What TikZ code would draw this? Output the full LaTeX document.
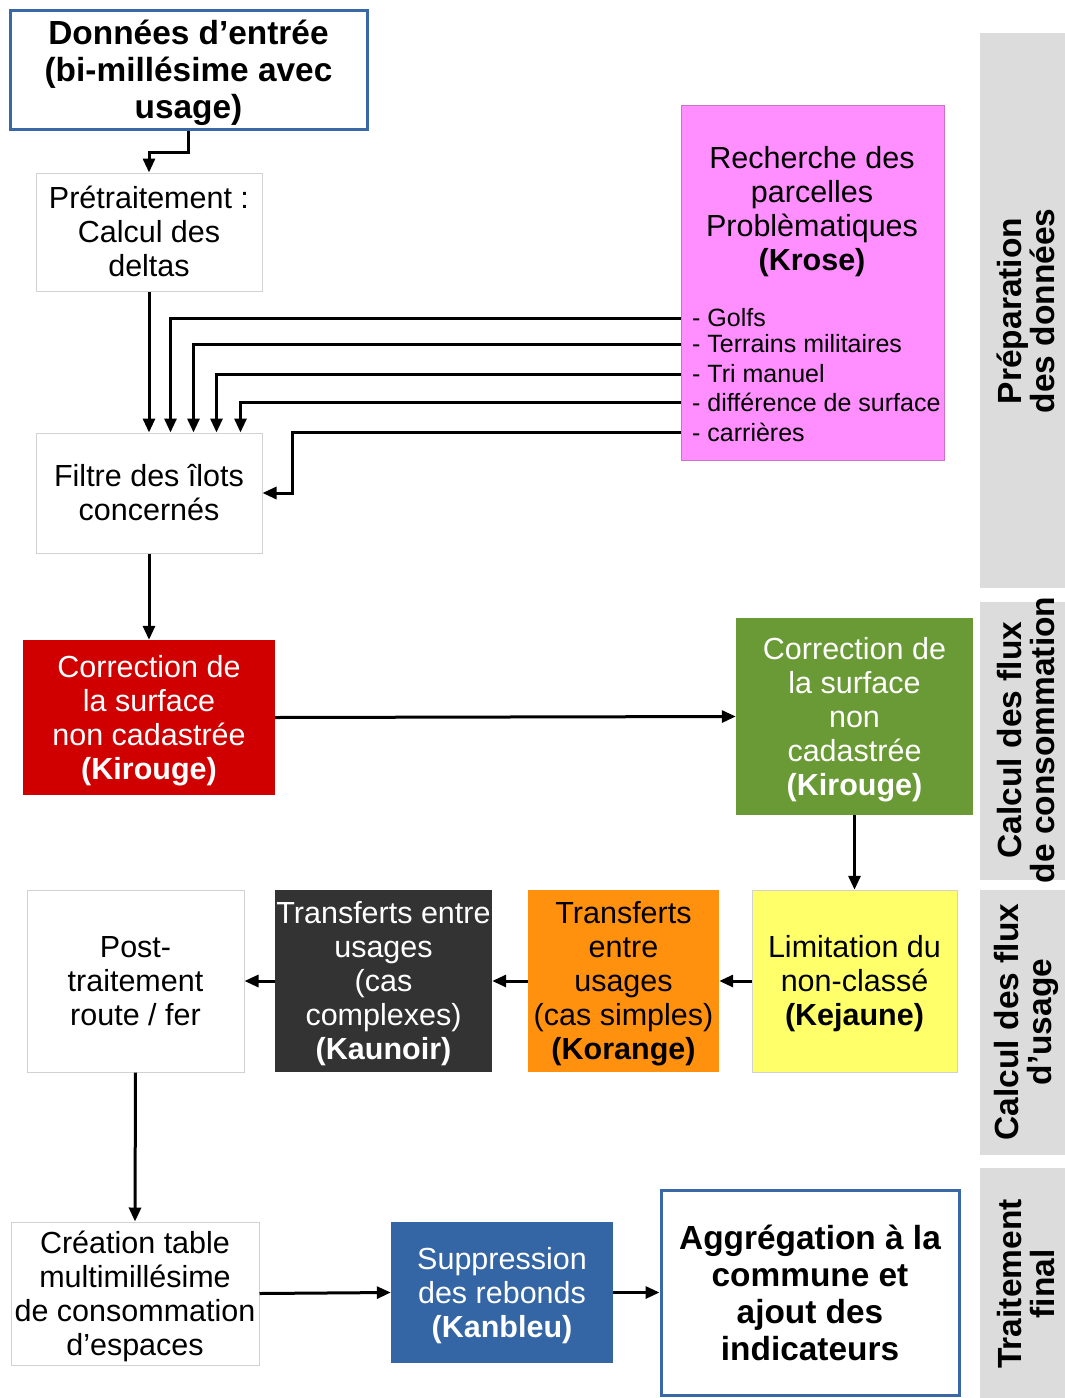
\documentclass[tikz,border=0pt]{standalone}
\usepackage{fontspec}
\setmainfont{Liberation Sans}
\usetikzlibrary{arrows.meta,calc}

\definecolor{frameblue}{HTML}{3A67A6}
\definecolor{boxgray}{HTML}{D2D2D2}
\definecolor{bandgray}{HTML}{DCDCDC}
\definecolor{kpink}{HTML}{FF8EFF}
\definecolor{kred}{HTML}{D00000}
\definecolor{kgreen}{HTML}{6A9A35}
\definecolor{kyellow}{HTML}{FFFF6A}
\definecolor{korange}{HTML}{FF910F}
\definecolor{kdark}{HTML}{333333}
\definecolor{kblue}{HTML}{3465A4}

% fixed line height above the first line and depth below the last one,
% so that every box places its text the same way
\newcommand\tstrut{\rule{0pt}{0.93em}}
\newcommand\bstrut{\rule[-0.21em]{0pt}{0pt}}

\begin{document}
\begin{tikzpicture}[x=1pt,y=-1pt,
  box/.style={rectangle, align=center, inner sep=0pt,
    font=\fontsize{30.5}{34}\selectfont},
  plainbox/.style={box, draw=boxgray, line width=1pt, fill=white},
  titlebox/.style={box, draw=frameblue, line width=3pt, fill=white,
    font=\bfseries\fontsize{33.4}{37}\selectfont},
  fillbox/.style={box, fill=#1},
  listitem/.style={anchor=west, inner sep=0pt, font=\fontsize{25}{28}\selectfont},
  band/.style={fill=bandgray, draw=none},
  bandtext/.style={rotate=90, align=center, inner sep=0pt,
    font=\bfseries\fontsize{33.5}{33}\selectfont},
  arr/.style={line width=3pt, -{Triangle[length=14pt,width=12pt]}}
]
% canvas
\fill[white] (0,0) rectangle (1065,1398);
\useasboundingbox (0,0) rectangle (1065,1398);

% stage bands on the right
\fill[band] (980,33) rectangle (1065,588);
\fill[band] (980,602) rectangle (1065,880);
\fill[band] (980,890) rectangle (1065,1155);
\fill[band] (980,1168) rectangle (1065,1398);
\node[bandtext] (b1) at (1026,311) {Préparation\\des données};
\node[bandtext] (b2) at (1026,740) {Calcul des flux\\de consommation};
\node[bandtext] (b3) at (1026,1022) {Calcul des flux\\d'usage};
\node[bandtext] (b4) at (1026,1284) {Traitement\\final};

% data preparation
\node[titlebox, minimum width=357pt, minimum height=119pt] (donnees) at (188.5,69.5)
  {\tstrut Données d’entrée\\(bi-millésime avec\\usage)\bstrut};
\node[plainbox, minimum width=226pt, minimum height=118pt] (pretrait) at (149,232)
  {\tstrut Prétraitement :\\Calcul des\\deltas\bstrut};
\node[fillbox=kpink, draw=kpink!80!black, line width=0.5pt,
  minimum width=263pt, minimum height=355pt] (krose) at (812.5,282.5) {};
\node[box] (krosetitle) at (812,209)
  {\tstrut Recherche des\\parcelles\\Problèmatiques\\\textbf{(Krose)}\bstrut};
\node[listitem] (l1) at (692,318) {- Golfs};
\node[listitem] (l2) at (692,344) {- Terrains militaires};
\node[listitem] (l3) at (692,374) {- Tri manuel};
\node[listitem] (l4) at (692,402) {- différence de surface};
\node[listitem] (l5) at (692,432) {- carrières};
\node[plainbox, minimum width=226pt, minimum height=120pt] (filtre) at (149,493)
  {\tstrut Filtre des îlots\\concernés\bstrut};

% consumption flows
\node[fillbox=kred, text=white, minimum width=252pt, minimum height=155pt] (kirouge) at (149,717.5)
  {\tstrut Correction de\\la surface\\non cadastrée\\\textbf{(Kirouge)}\bstrut};
\node[fillbox=kgreen, text=white, minimum width=237pt, minimum height=197pt] (kirouge2) at (854.5,716.5)
  {\tstrut Correction de\\la surface\\non\\cadastrée\\\textbf{(Kirouge)}\bstrut};

% usage flows
\node[fillbox=kyellow, draw=boxgray, line width=0.5pt, minimum width=205pt, minimum height=182pt] (kejaune) at (854.5,981)
  {\tstrut Limitation du\\non-classé\\\textbf{(Kejaune)}\bstrut};
\node[fillbox=korange, minimum width=191pt, minimum height=182pt] (korange) at (623.5,981)
  {\tstrut Transferts\\entre\\usages\\(cas simples)\\\textbf{(Korange)}\bstrut};
\node[fillbox=kdark, text=white, minimum width=217pt, minimum height=182pt] (kaunoir) at (383.5,981)
  {\tstrut Transferts entre\\usages\\(cas\\complexes)\\\textbf{(Kaunoir)}\bstrut};
\node[plainbox, minimum width=217pt, minimum height=182pt] (post) at (135.5,981)
  {\tstrut Post-\\traitement\\route / fer\bstrut};

% final processing
\node[plainbox, minimum width=248pt, minimum height=143pt] (creation) at (135,1293.5)
  {\tstrut Création table\\multimillésime\\de consommation\\d’espaces\bstrut};
\node[fillbox=kblue, text=white, minimum width=222pt, minimum height=141pt] (kanbleu) at (502,1292.5)
  {\tstrut Suppression\\des rebonds\\\textbf{(Kanbleu)}\bstrut};
\node[titlebox, minimum width=298pt, minimum height=205pt] (aggreg) at (810,1292.5)
  {\tstrut Aggrégation à la\\commune et\\ajout des\\indicateurs\bstrut};

% entry points on top of the filter box
\coordinate (in1) at ($(filtre.north west)+(135,0)$);
\coordinate (in2) at ($(filtre.north west)+(158,0)$);
\coordinate (in3) at ($(filtre.north west)+(181,0)$);
\coordinate (in4) at ($(filtre.north west)+(205,0)$);
\coordinate (side5) at ($(filtre.east)+(30,0)$);

% connectors
\draw[arr] (donnees.south) -- ++(0,22) -| (pretrait.north);
\draw[arr] (pretrait.south) -- (filtre.north);
\draw[arr] (krose.west |- l1.west) -| (in1);
\draw[arr] (krose.west |- l2.west) -| (in2);
\draw[arr] (krose.west |- l3.west) -| (in3);
\draw[arr] (krose.west |- l4.west) -| (in4);
\draw[arr] (krose.west |- l5.west) -| (side5) -- (filtre.east);
\draw[arr] (filtre.south) -- (kirouge.north);
\draw[arr] (kirouge.east) -- (kirouge2.west);
\draw[arr] (kirouge2.south) -- (kejaune.north);
\draw[arr] (kejaune.west) -- (korange.east);
\draw[arr] (korange.west) -- (kaunoir.east);
\draw[arr] (kaunoir.west) -- (post.east);
\draw[arr] (post.south) -- (creation.north);
\draw[arr] (creation.east) -- (kanbleu.west);
\draw[arr] (kanbleu.east) -- (aggreg.west);
\end{tikzpicture}
\end{document}
